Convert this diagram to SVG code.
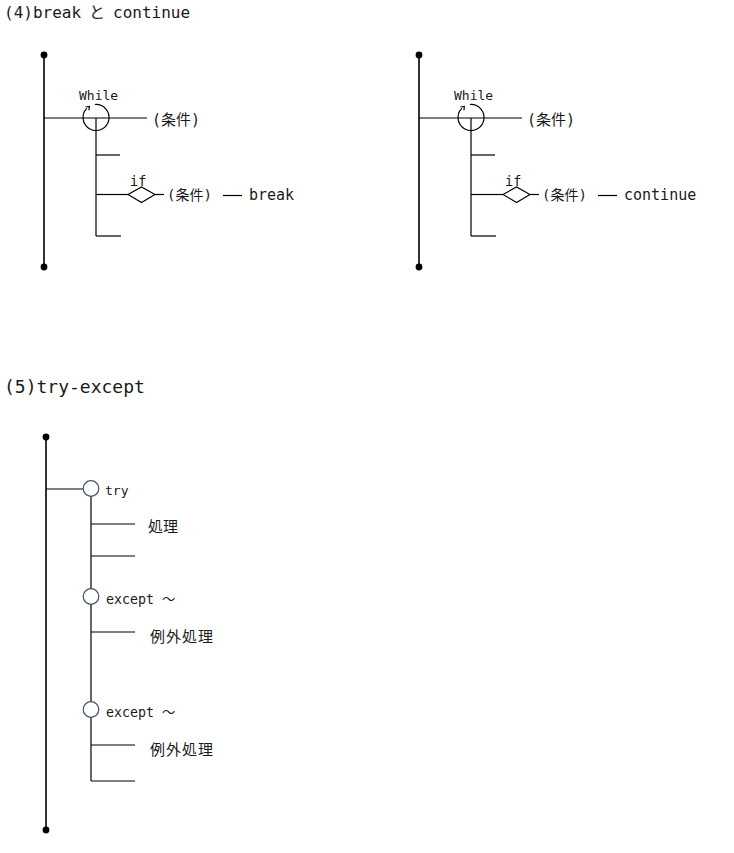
<svg xmlns="http://www.w3.org/2000/svg" width="734" height="853" viewBox="0 0 734 853">
  <style>
    .ln { stroke: #000; stroke-width: 1.2; fill: none; }
    .main { stroke: #000; stroke-width: 1.6; fill: none; }
    .dot { fill: #000; }
    .t { font-family: "DejaVu Sans Mono", "Noto Sans CJK JP", monospace; fill: #1a1a1a; }
    .jp { font-family: "Noto Sans CJK JP", "DejaVu Sans Mono", sans-serif; fill: #1a1a1a; }
    .sym { stroke: #000; stroke-width: 1.1; fill: #fff; }
    .circ { stroke: #44546A; stroke-width: 1.2; fill: #fff; }
  </style>
  <rect width="734" height="853" fill="#fff"/>

  <!-- Titles -->
  <g id="title4">
    <text class="t" font-size="16" y="18"><tspan x="4">(4)break</tspan><tspan x="89" class="jp">と</tspan><tspan x="113">continue</tspan></text>
  </g>
  <g id="title5">
    <text class="t" font-size="18" x="4" y="393">(5)try-except</text>
  </g>

  <!-- Diagram break (left) -->
  <g id="diagram-break">
    <g id="connectors-break">
      <line class="main" x1="44" y1="55" x2="44" y2="267"/>
      <line class="ln" x1="44" y1="118" x2="147" y2="118"/>
      <line class="ln" x1="96" y1="118" x2="96" y2="236"/>
      <line class="ln" x1="96" y1="155" x2="120" y2="155"/>
      <line class="ln" x1="96" y1="194.5" x2="128" y2="194.5"/>
      <line class="ln" x1="155" y1="194.5" x2="164" y2="194.5"/>
      <line class="ln" x1="96" y1="236" x2="121" y2="236"/>
      <line class="ln" x1="223" y1="195.5" x2="242" y2="195.5"/>
    </g>
    <g id="break-start"><circle class="dot" cx="44" cy="55" r="3.4"/></g>
    <g id="break-end"><circle class="dot" cx="44" cy="267" r="3.4"/></g>
    <g id="break-while">
      <path class="ln" d="M94.9,104.5 A13,13 0 1 1 86.8,108.3"/>
      <path class="ln" d="M85.5,107 L89.3,106.5 L89,110.3" stroke-width="1"/>
      <text class="t" font-size="13" x="79" y="100">While</text>
      <text class="t" font-size="15" x="152" y="125">(<tspan class="jp">条件</tspan>)</text>
    </g>
    <g id="break-if">
      <polygon class="sym" points="128,194.5 141.5,187 155,194.5 141.5,202.5"/>
      <text class="t" font-size="13.5" x="130" y="185.5">if</text>
      <text class="t" font-size="14" x="167" y="200">(<tspan class="jp">条件</tspan>)</text>
    </g>
    <g id="break-label">
      <text class="t" font-size="15" x="249" y="200">break</text>
    </g>
  </g>

  <!-- Diagram continue (right) -->
  <g id="diagram-continue" transform="translate(375,0)">
    <g id="connectors-continue">
      <line class="main" x1="44" y1="55" x2="44" y2="267"/>
      <line class="ln" x1="44" y1="118" x2="147" y2="118"/>
      <line class="ln" x1="96" y1="118" x2="96" y2="236"/>
      <line class="ln" x1="96" y1="155" x2="120" y2="155"/>
      <line class="ln" x1="96" y1="194.5" x2="128" y2="194.5"/>
      <line class="ln" x1="155" y1="194.5" x2="164" y2="194.5"/>
      <line class="ln" x1="96" y1="236" x2="121" y2="236"/>
      <line class="ln" x1="223" y1="195.5" x2="242" y2="195.5"/>
    </g>
    <g id="continue-start"><circle class="dot" cx="44" cy="55" r="3.4"/></g>
    <g id="continue-end"><circle class="dot" cx="44" cy="267" r="3.4"/></g>
    <g id="continue-while">
      <path class="ln" d="M94.9,104.5 A13,13 0 1 1 86.8,108.3"/>
      <path class="ln" d="M85.5,107 L89.3,106.5 L89,110.3" stroke-width="1"/>
      <text class="t" font-size="13" x="79" y="100">While</text>
      <text class="t" font-size="15" x="152" y="125">(<tspan class="jp">条件</tspan>)</text>
    </g>
    <g id="continue-if">
      <polygon class="sym" points="128,194.5 141.5,187 155,194.5 141.5,202.5"/>
      <text class="t" font-size="13.5" x="130" y="185.5">if</text>
      <text class="t" font-size="14" x="167" y="200">(<tspan class="jp">条件</tspan>)</text>
    </g>
    <g id="continue-label">
      <text class="t" font-size="15" x="249" y="200">continue</text>
    </g>
  </g>

  <!-- Diagram try-except -->
  <g id="diagram-try">
    <g id="connectors-try">
      <line class="main" x1="46" y1="437" x2="46" y2="830"/>
      <line class="ln" x1="46" y1="489" x2="83" y2="489"/>
      <line class="ln" x1="91" y1="496" x2="91" y2="781"/>
      <line class="ln" x1="91" y1="524" x2="135" y2="524"/>
      <line class="ln" x1="91" y1="556" x2="135" y2="556"/>
      <line class="ln" x1="91" y1="632" x2="135" y2="632"/>
      <line class="ln" x1="91" y1="745" x2="135" y2="745"/>
      <line class="ln" x1="91" y1="781" x2="135" y2="781"/>
    </g>
    <g id="try-start"><circle class="dot" cx="46" cy="437" r="3.4"/></g>
    <g id="try-end"><circle class="dot" cx="46" cy="830" r="3.4"/></g>
    <g id="try-node">
      <circle class="circ" cx="91" cy="488.5" r="7.8"/>
      <text class="t" font-size="13" x="105" y="495">try</text>
    </g>
    <g id="try-body">
      <text class="jp" font-size="15" x="148" y="532">処理</text>
    </g>
    <g id="except1-node">
      <circle class="circ" cx="91" cy="596.5" r="7.8"/>
      <text class="t" font-size="13.3" x="106" y="604">except <tspan class="jp">～</tspan></text>
    </g>
    <g id="except1-body">
      <text class="jp" font-size="15" x="150" y="642" letter-spacing="1">例外処理</text>
    </g>
    <g id="except2-node">
      <circle class="circ" cx="91" cy="709.5" r="7.8"/>
      <text class="t" font-size="13.3" x="106" y="717">except <tspan class="jp">～</tspan></text>
    </g>
    <g id="except2-body">
      <text class="jp" font-size="15" x="150" y="755" letter-spacing="1">例外処理</text>
    </g>
  </g>
</svg>
